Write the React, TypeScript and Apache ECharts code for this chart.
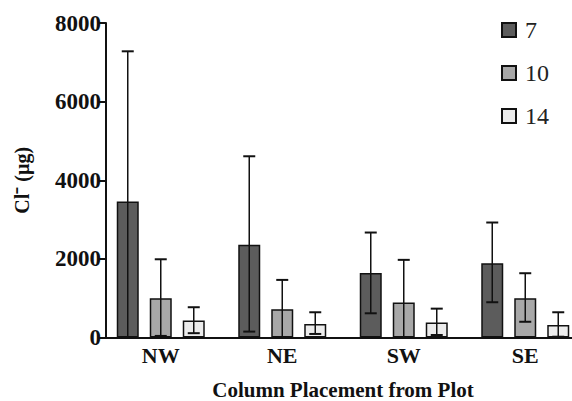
import React, { useEffect, useRef } from "react";
import * as echarts from "echarts";

const categories = ["NW", "NE", "SW", "SE"];
const seriesNames = ["7", "10", "14"];
const means = [
  [3460, 2360, 1640, 1890],
  [1000, 720, 890, 1000],
  [430, 345, 380, 320],
];
const upper = [
  [7280, 4610, 2670, 2925],
  [1990, 1465, 1975, 1635],
  [770, 642, 734, 642],
];
const lower = [
  [0, 150, 616, 897],
  [40, 0, 0, 400],
  [110, 90, 64, 20],
];
const yTicks = { min: 0, max: 8000, interval: 2000 };

const colors = ["#5c5c5c", "#a8a8a8", "#ececec"];
const FONT = "Liberation Serif";
const BAR_W = 22;
const BAR_STEP = 33;

export default function App() {
  const ref = useRef<HTMLDivElement>(null);
  useEffect(() => {
    if (!ref.current) return;
    const chart = echarts.init(ref.current, undefined, { renderer: "svg" });
    const bars = seriesNames.map((name, i) => ({
      type: "bar",
      name,
      data: means[i],
      barWidth: BAR_W,
      barGap: "50%",
      itemStyle: { color: colors[i], borderColor: "#111", borderWidth: 1.5 },
      z: 2,
    }));
    const errs = seriesNames.map((name, i) => ({
      type: "custom",
      name: "err" + name,
      z: 5,
      data: categories.map((_, j) => [j, lower[i][j], upper[i][j]]),
      encode: { x: 0, y: [1, 2] },
      renderItem: (params: any, api: any) => {
        const x = api.value(0);
        const lo = api.coord([x, api.value(1)]);
        const hi = api.coord([x, api.value(2)]);
        const cx = lo[0] + (i - 1) * BAR_STEP;
        const cap = 6;
        const style = { stroke: "#111", lineWidth: 1.5 };
        return {
          type: "group",
          children: [
            { type: "line", shape: { x1: cx, y1: lo[1], x2: cx, y2: hi[1] }, style },
            { type: "line", shape: { x1: cx - cap, y1: hi[1], x2: cx + cap, y2: hi[1] }, style: { stroke: "#111", lineWidth: 2 } },
            { type: "line", shape: { x1: cx - cap, y1: lo[1], x2: cx + cap, y2: lo[1] }, style: { stroke: "#111", lineWidth: 2 } },
          ],
        };
      },
    }));
    chart.setOption({
      animation: false,
      backgroundColor: "#fff",
      textStyle: { fontFamily: FONT },
      grid: { left: 100, top: 23, width: 486, height: 314.5, containLabel: false, outerBoundsMode: "none" },
      legend: {
        data: seriesNames,
        orient: "vertical",
        left: 496,
        top: 13,
        itemWidth: 14,
        itemHeight: 14,
        itemGap: 19,
        icon: "rect",
        textStyle: {
          fontFamily: FONT, fontSize: 24, color: "#222",
          rich: { t: { fontFamily: FONT, fontSize: 24, color: "#222", padding: [0, 0, 0, 4] } },
        },
        formatter: (n: string) => "{t|" + n + "}",
      },
      xAxis: {
        type: "category",
        data: categories,
        axisLine: { lineStyle: { color: "#111", width: 2 } },
        axisTick: { show: false },
        axisLabel: { fontFamily: FONT, fontSize: 22, fontWeight: "bold", color: "#111", margin: 7 },
        name: "Column Placement from Plot",
        nameLocation: "middle",
        nameGap: 42,
        nameTextStyle: { fontFamily: FONT, fontSize: 21, fontWeight: "bold", color: "#111" },
      },
      yAxis: {
        type: "value",
        min: yTicks.min,
        max: yTicks.max,
        interval: yTicks.interval,
        offset: -6,
        splitLine: { show: false },
        axisLine: { show: true, lineStyle: { color: "#111", width: 2 } },
        axisTick: { show: true, length: 8, lineStyle: { color: "#111", width: 2 } },
        axisLabel: {
          fontFamily: FONT, fontSize: 23, fontWeight: "bold", color: "#111", margin: 5,
          formatter: (v: number) => String(v),
        },
        name: "Cl\u207B (\u00B5g)",
        nameLocation: "middle",
        nameRotate: 90,
        nameGap: 74,
        nameTextStyle: { fontFamily: FONT, fontSize: 20, fontWeight: "bold", color: "#111" },
      },
      series: [...bars, ...errs],
    });
    return () => chart.dispose();
  }, []);
  return (
    <div
      ref={ref}
      style={{ position: "fixed", left: 0, top: 0, width: 572, height: 401, background: "#fff" }}
    />
  );
}
